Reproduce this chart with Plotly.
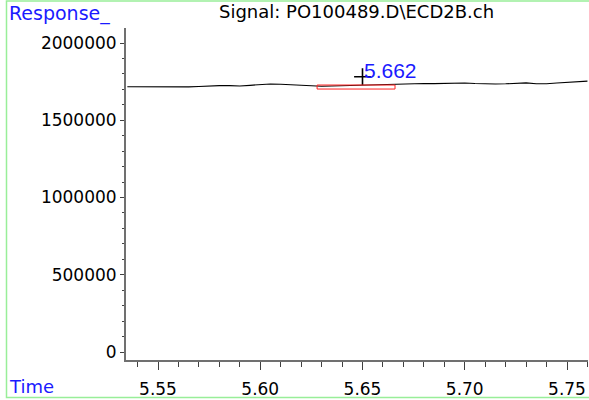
import plotly.graph_objects as go

# Data
times = [5.535, 5.540, 5.545, 5.550, 5.555, 5.560, 5.565, 5.570, 5.575, 5.580,
         5.585, 5.590, 5.595, 5.600, 5.605, 5.610, 5.615, 5.620, 5.625, 5.630,
         5.635, 5.640, 5.645, 5.650, 5.655, 5.660, 5.665, 5.670, 5.675, 5.680,
         5.685, 5.690, 5.695, 5.700, 5.705, 5.710, 5.715, 5.720, 5.725, 5.730,
         5.735, 5.740, 5.745, 5.750, 5.755, 5.760]
response = [1717000, 1716500, 1716000, 1716500, 1715000, 1712600, 1716000, 1718000, 1722000, 1724000,
            1724000, 1722000, 1726000, 1731000, 1735000, 1733000, 1730000, 1725000, 1722000, 1720000,
            1722000, 1724000, 1726000, 1727000, 1728000, 1730000, 1731000, 1733000, 1736000, 1738000,
            1737000, 1739000, 1741000, 1741000, 1738000, 1735000, 1735000, 1736000, 1739000, 1742000,
            1736000, 1736000, 1741000, 1746000, 1749000, 1753000]

peak_label = "5.662"
peak_marker_time = [5.650]
peak_marker_value = [1782000]
baseline_start, baseline_end = 5.6278, 5.6659
baseline_top, baseline_bottom = 1728000, 1702000

title_text = "Signal: PO100489.D\\ECD2B.ch"
y_title = "Response_"
x_title = "Time"

x_range = [5.53435, 5.76027]
y_range = [-51780, 2097087]

W, H = 589, 400
ML, MR, MT, MB = 126, 1, 28, 40
PW, PH = W - ML - MR, H - MT - MB

def px_x(p):
    return (p - ML) / PW

def px_y(p):
    return (H - MB - p) / PH

fig = go.Figure()
fig.add_trace(go.Scatter(x=times, y=response, mode="lines",
                         line=dict(color="black", width=1.1),
                         hoverinfo="skip", showlegend=False))
fig.add_trace(go.Scatter(x=peak_marker_time, y=peak_marker_value, mode="markers",
                         marker=dict(symbol="cross-thin", size=12,
                                     line=dict(color="black", width=1.6)),
                         hoverinfo="skip", showlegend=False))

fig.add_shape(type="rect", xref="x", yref="y",
              x0=baseline_start, x1=baseline_end, y0=baseline_bottom, y1=baseline_top,
              line=dict(color="#ff2222", width=1), fillcolor="rgba(0,0,0,0)")

fig.add_annotation(x=peak_marker_time[0], y=peak_marker_value[0], xref="x", yref="y",
                   text=peak_label, showarrow=False, xanchor="left", yanchor="middle",
                   xshift=-1, yshift=6,
                   font=dict(family="Liberation Sans, Arial", size=21, color="#1a1aff"))

# green frame
fig.add_shape(type="rect", xref="paper", yref="paper",
              x0=px_x(6.5), x1=px_x(592), y0=px_y(397.5), y1=px_y(1),
              line=dict(color="#99ee99", width=1.5), fillcolor="rgba(0,0,0,0)", layer="below")

fig.add_annotation(x=px_x(356.5), y=px_y(11), xref="paper", yref="paper",
                   text=title_text, showarrow=False, xanchor="center", yanchor="middle",
                   font=dict(family="DejaVu Sans", size=18, color="black"))
fig.add_annotation(x=px_x(7), y=px_y(14), xref="paper", yref="paper",
                   text=y_title, showarrow=False, xanchor="left", yanchor="middle",
                   font=dict(family="DejaVu Sans", size=19, color="#1a1aff"))
fig.add_annotation(x=px_x(7), y=px_y(387), xref="paper", yref="paper",
                   text=x_title, showarrow=False, xanchor="left", yanchor="middle",
                   font=dict(family="DejaVu Sans", size=18, color="#1a1aff"))

tick_font = dict(family="DejaVu Sans", size=17, color="black")

fig.update_xaxes(range=x_range, showgrid=False, zeroline=False, automargin=False,
                 showline=True, linecolor="#707070", linewidth=2,
                 ticks="outside", ticklen=8, tickwidth=1, tickcolor="#404040",
                 ticklabelstandoff=5,
                 tick0=5.55, dtick=0.05, tickformat=".2f", tickfont=tick_font,
                 minor=dict(ticks="outside", ticklen=5, tickwidth=1, tickcolor="#404040",
                            dtick=0.01, tick0=5.55, showgrid=False))
fig.update_yaxes(range=y_range, showgrid=False, zeroline=False, automargin=False,
                 showline=True, linecolor="#707070", linewidth=2,
                 ticks="outside", ticklen=4, tickwidth=1, tickcolor="#404040",
                 tick0=0, dtick=500000, tickformat="d", tickfont=tick_font,
                 minor=dict(ticks="outside", ticklen=2, tickwidth=1, tickcolor="#404040",
                            dtick=100000, tick0=0, showgrid=False))

fig.update_layout(width=W, height=H, margin=dict(l=ML, r=MR, t=MT, b=MB),
                  paper_bgcolor="white", plot_bgcolor="white", showlegend=False)

fig.write_html("out.html", config={"displayModeBar": False},
               post_script="document.body.style.margin='0px';document.body.style.overflow='hidden';")
